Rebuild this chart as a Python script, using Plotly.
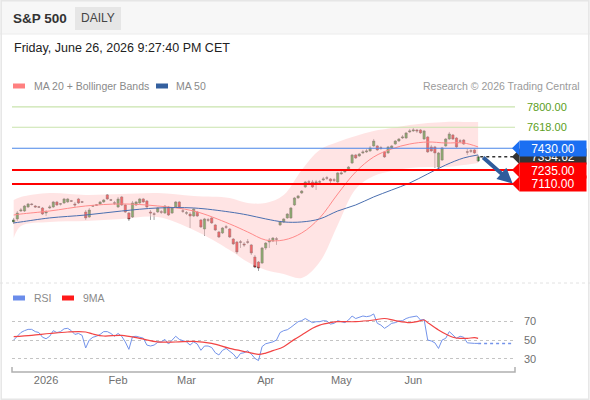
import plotly.graph_objects as go
import pandas as pd

W, H = 590, 400

holidays = ["2025-12-25", "2026-01-01", "2026-01-19", "2026-02-16",
            "2026-04-03", "2026-05-25", "2026-06-19"]
dates = pd.bdate_range("2025-12-18", "2026-06-26", freq="C", holidays=holidays)
bars = list(range(len(dates)))
tick_text = ["2026", "Feb", "Mar", "Apr", "May", "Jun"]

opens = [6770, 6797, 6868, 6868, 6904, 6931, 6913, 6906, 6895, 6850,
         6895, 6904, 6949, 6929, 6940, 6949, 6960, 6931, 6976, 6951,
         6859, 6814, 6911, 6924, 6931, 6949, 7012, 6969, 6942, 6904,
         6994, 6922, 6850, 6814, 6922, 6940, 6976, 6958, 6859, 6843,
         6859, 6862, 6850, 6904, 6850, 6904, 6949, 6870, 6848, 6841,
         6823, 6859, 6788, 6707, 6790, 6806, 6743, 6680, 6671, 6727,
         6707, 6617, 6590, 6592, 6573, 6592, 6564, 6456, 6411, 6402,
         6537, 6590, 6599, 6619, 6743, 6770, 6806, 6806, 6922, 6985,
         7029, 7083, 7130, 7128, 7119, 7126, 7146, 7166, 7155, 7148,
         7128, 7200, 7218, 7236, 7298, 7370, 7361, 7388, 7397, 7406,
         7451, 7451, 7435, 7397, 7388, 7433, 7468, 7495, 7522, 7522,
         7576, 7585, 7594, 7594, 7513, 7531, 7442, 7442, 7262, 7325,
         7451, 7513, 7549, 7522, 7497, 7504, 7399, 7408, 7415, 7316]
closes = [6788, 6850, 6877, 6913, 6931, 6926, 6904, 6902, 6841, 6859,
          6904, 6949, 6922, 6933, 6976, 6976, 6956, 6922, 6940, 6947,
          6806, 6877, 6915, 6920, 6949, 6967, 6976, 6965, 6938, 6976,
          6922, 6859, 6797, 6940, 6949, 6976, 6949, 6904, 6850, 6839,
          6895, 6857, 6913, 6832, 6895, 6949, 6904, 6866, 6852, 6823,
          6886, 6823, 6725, 6797, 6786, 6761, 6698, 6635, 6716, 6723,
          6635, 6573, 6501, 6588, 6564, 6588, 6492, 6366, 6357, 6537,
          6581, 6608, 6626, 6615, 6770, 6797, 6841, 6895, 6985, 7003,
          7047, 7128, 7126, 7083, 7128, 7130, 7155, 7162, 7137, 7144,
          7209, 7209, 7227, 7262, 7370, 7343, 7379, 7397, 7406, 7433,
          7495, 7415, 7431, 7352, 7442, 7451, 7495, 7513, 7531, 7567,
          7585, 7594, 7585, 7567, 7585, 7397, 7406, 7388, 7388, 7433,
          7513, 7558, 7513, 7442, 7493, 7468, 7395, 7404, 7388, 7354.62]
highs = [6806, 6868, 6895, 6922, 6940, 6940, 6922, 6913, 6904, 6877,
         6922, 6958, 6958, 6940, 6985, 6985, 6967, 6949, 6985, 6958,
         6877, 6895, 6922, 6931, 6958, 6976, 7020, 6976, 6958, 6994,
         7003, 6931, 6859, 6958, 6958, 6985, 6985, 6967, 6877, 6859,
         6904, 6877, 6922, 6913, 6904, 6958, 6958, 6886, 6868, 6859,
         6895, 6868, 6797, 6806, 6806, 6814, 6752, 6689, 6725, 6743,
         6716, 6626, 6599, 6608, 6590, 6617, 6573, 6474, 6420, 6546,
         6590, 6626, 6635, 6635, 6779, 6806, 6850, 6904, 6994, 7012,
         7056, 7137, 7146, 7146, 7146, 7146, 7173, 7182, 7164, 7164,
         7218, 7227, 7244, 7271, 7379, 7379, 7388, 7415, 7424, 7451,
         7513, 7460, 7451, 7406, 7451, 7460, 7504, 7522, 7549, 7576,
         7603, 7612, 7603, 7603, 7594, 7540, 7460, 7451, 7397, 7442,
         7522, 7576, 7558, 7531, 7513, 7513, 7424, 7424, 7424, 7370]
lows = [6752, 6779, 6859, 6859, 6895, 6917, 6895, 6895, 6832, 6823,
        6886, 6895, 6913, 6917, 6931, 6940, 6949, 6904, 6931, 6940,
        6788, 6806, 6904, 6913, 6922, 6940, 6967, 6958, 6922, 6895,
        6913, 6850, 6779, 6806, 6913, 6931, 6940, 6895, 6788, 6788,
        6850, 6841, 6841, 6823, 6841, 6895, 6895, 6850, 6832, 6716,
        6814, 6814, 6716, 6644, 6770, 6752, 6689, 6626, 6662, 6707,
        6626, 6564, 6483, 6537, 6546, 6573, 6474, 6357, 6331, 6393,
        6519, 6537, 6590, 6564, 6734, 6761, 6797, 6797, 6913, 6976,
        7020, 7074, 7110, 7074, 7056, 7110, 7137, 7146, 7119, 7128,
        7110, 7191, 7209, 7227, 7289, 7334, 7352, 7379, 7388, 7397,
        7442, 7406, 7415, 7343, 7379, 7424, 7460, 7486, 7513, 7513,
        7567, 7576, 7567, 7558, 7504, 7388, 7397, 7253, 7244, 7316,
        7442, 7504, 7504, 7433, 7477, 7460, 7370, 7388, 7379, 7307]

# moving averages / bands read at a few bars
ma_idx = [0, 2, 10, 20, 30, 40, 50, 60, 65, 70, 75, 80, 85, 90, 95, 100,
          105, 110, 115, 120, 125, 129]
ma20 = [6832, 6841, 6868, 6913, 6931, 6913, 6868, 6752, 6680, 6608, 6608,
        6671, 6806, 7020, 7218, 7352, 7424, 7468, 7486, 7477, 7477, 7442]
bb_upper = [6967, 6994, 7029, 7012, 7020, 7029, 7003, 6985, 6940, 6940, 7012,
            7236, 7415, 7486, 7540, 7585, 7612, 7639, 7657, 7666, 7666, 7666]
bb_lower = [6626, 6734, 6770, 6779, 6797, 6814, 6698, 6519, 6411, 6340, 6304,
            6268, 6411, 6743, 7065, 7182, 7227, 7253, 7262, 7262, 7280, 7298]
ma50 = [6761, 6770, 6806, 6832, 6868, 6895, 6895, 6859, 6832, 6797, 6770,
        6770, 6797, 6868, 6922, 6994, 7056, 7119, 7200, 7280, 7343, 7370]

rsi = [50, 54, 58, 60, 61.4, 61.4, 59, 58, 53, 51.4,
       54, 60, 58, 59, 62, 62.5, 60, 56, 57, 55,
       41.5, 50, 53, 54, 56, 59, 59, 57, 54, 57,
       54, 48, 40, 53.6, 54, 53, 52, 44.6, 43.6, 44.6,
       47.5, 48, 50.7, 45.7, 50, 54, 50.7, 49, 48, 44.6,
       48, 45.7, 39, 43.6, 43.6, 42, 36.4, 34, 39, 41,
       37.5, 35, 30.4, 35.7, 36.4, 38.6, 35, 30.4, 28, 43,
       46, 47, 48, 50, 58, 60, 61, 63.6, 67, 69.6,
       70.7, 73, 70.7, 68.6, 69.6, 69.6, 70.7, 70.3, 67, 67.9,
       70.7, 69.3, 68.6, 71.4, 75.7, 73, 74.3, 75.7, 75, 75.7,
       77.9, 67.9, 66, 62.5, 65, 67.9, 68.6, 70.3, 70.7, 73,
       74.3, 75, 75.7, 71.4, 72, 50, 49, 47, 41, 50,
       51.8, 59, 55.4, 51.8, 54, 53, 47, 46.4, 46.4, 46.4]
ma9_idx = [0, 5, 10, 15, 20, 22, 25, 30, 35, 40, 45, 50, 55, 60, 65, 68, 70,
           72, 75, 78, 80, 83, 85, 88, 90, 95, 100, 103, 106, 110, 112, 114,
           115, 118, 120, 122, 124, 126, 128, 129]
rsi_ma9 = [53.6, 55, 57, 58.6, 58.6, 56.4, 54.3, 55, 51.8, 48, 47.9, 48.6,
           46.4, 41, 37, 34.6, 36, 38.6, 42.9, 50.7, 55.4, 62.5, 66, 68.6,
           69.6, 69.6, 71.4, 73, 70.7, 68.6, 69.6, 71.4, 68.6, 60.7, 56.4,
           53, 51.8, 51.8, 52.5, 51.8]

resistances = [7800, 7618]
pivot = 7430
supports = [7235, 7110]
target = 7110

tick_idx = [i for i in bars[1:] if dates[i].month != dates[i - 1].month]

FONT = "Liberation Sans, Arial, sans-serif"
PRICE_RANGE = [6232, 7898]
PRICE_PX = (96, 282)
RSI_RANGE = [15.8, 89.6]
RSI_PX = (303, 372)
X_PX = (12, 515)
X_RANGE = [-0.47, 139.25]
per_px = (PRICE_RANGE[1] - PRICE_RANGE[0]) / (PRICE_PX[1] - PRICE_PX[0])


def fx(p):
    return p / W


def fy(p):
    return 1 - p / H


fig = go.Figure()

fig.add_trace(go.Scatter(x=ma_idx, y=bb_lower, mode="lines", line=dict(width=0, shape="spline"),
                         hoverinfo="skip"))
fig.add_trace(go.Scatter(x=ma_idx, y=bb_upper, mode="lines", line=dict(width=0, shape="spline"),
                         fill="tonexty", fillcolor="rgba(255,196,196,0.45)", hoverinfo="skip"))
fig.add_trace(go.Scatter(x=ma_idx, y=ma20, mode="lines",
                         line=dict(color="#ff8a8a", width=1, shape="spline")))
fig.add_trace(go.Scatter(x=ma_idx, y=ma50, mode="lines",
                         line=dict(color="#4a6fb0", width=1, shape="spline")))
fig.add_trace(go.Candlestick(x=bars, open=opens, high=highs, low=lows, close=closes,
                             whiskerwidth=0,
                             increasing=dict(fillcolor="#2a9a2a", line=dict(color="#3f3f3f", width=0.5)),
                             decreasing=dict(fillcolor="#f01a1d", line=dict(color="#3f3f3f", width=0.5))))

fig.add_trace(go.Scatter(x=bars, y=rsi, mode="lines", xaxis="x2", yaxis="y2",
                         line=dict(color="#7393ea", width=1)))
fig.add_trace(go.Scatter(x=ma9_idx, y=rsi_ma9, mode="lines", xaxis="x2", yaxis="y2",
                         line=dict(color="#f24444", width=1.2, shape="spline")))

shapes = []
# header strip, frame, separators
shapes.append(dict(type="rect", xref="paper", yref="paper", x0=0, x1=1, y0=fy(34), y1=1,
                   fillcolor="#f7f7f7", line=dict(width=0), layer="below"))
shapes.append(dict(type="line", xref="paper", yref="paper", x0=0, x1=1, y0=fy(34), y1=fy(34),
                   line=dict(color="#ececec", width=1)))
shapes.append(dict(type="rect", xref="paper", yref="paper", x0=0.002, x1=0.998, y0=0.002, y1=0.998,
                   line=dict(color="#e6e6e6", width=1.5)))
shapes.append(dict(type="rect", xref="paper", yref="paper", x0=fx(75), x1=fx(121), y0=fy(30), y1=fy(7),
                   fillcolor="#e6e6e6", line=dict(width=0)))
shapes.append(dict(type="line", xref="paper", yref="paper", x0=0, x1=1, y0=fy(283), y1=fy(283),
                   line=dict(color="#e2e2e2", width=1, dash="dot")))
# legend swatches
for x0, col, yp in [(13, "#ff8080", 86), (156, "#34609f", 86), (13, "#6a8cea", 298), (62, "#ff1a1a", 298)]:
    shapes.append(dict(type="rect", xref="paper", yref="paper", x0=fx(x0), x1=fx(x0 + 12),
                       y0=fy(yp + 2.5), y1=fy(yp - 2.5), fillcolor=col, line=dict(width=0)))
# x axis bracket
shapes.append(dict(type="path", xref="paper", yref="paper",
                   path=f"M {fx(X_PX[0])} {fy(367)} L {fx(X_PX[0])} {fy(372)} L {fx(X_PX[1])} {fy(372)} L {fx(X_PX[1])} {fy(367)}",
                   line=dict(color="#b0b0b0", width=1.5)))

for lv in resistances:
    shapes.append(dict(type="line", xref="x domain", yref="y", x0=0, x1=1, y0=lv, y1=lv,
                       line=dict(color="#c9e3ad", width=1.2)))
shapes.append(dict(type="line", xref="x domain", yref="y", x0=0, x1=1, y0=pivot, y1=pivot,
                   line=dict(color="#4a86e8", width=1.2)))
for lv in supports:
    shapes.append(dict(type="line", xref="x domain", yref="y", x0=0, x1=1.006, y0=lv, y1=lv,
                       line=dict(color="#ff0000", width=2)))
shapes.append(dict(type="line", xref="x", yref="y", x0=bars[-1] + 0.6, x1=X_RANGE[1], y0=closes[-1], y1=closes[-1],
                   line=dict(color="#333333", width=1.5, dash="dot")))
shapes.append(dict(type="line", xref="x2", yref="y2", x0=bars[-1], x1=X_RANGE[1] - 0.6, y0=rsi[-1], y1=rsi[-1],
                   line=dict(color="#7393ea", width=1.5, dash="dot")))

annotations = []


def tag(price, text, color):
    half = 7.5 * per_px
    shapes.append(dict(type="path", xref="paper", yref="y",
                       path=f"M {fx(512)} {price} L {fx(519.5)} {price + half} L {fx(519.5)} {price - half} Z",
                       fillcolor=color, line=dict(width=0)))
    annotations.append(dict(x=fx(552.5), y=price, xref="paper", yref="y", text=text, showarrow=False,
                            bgcolor=color, width=66, height=15, borderpad=0, xanchor="center",
                            font=dict(color="white", size=12, family=FONT)))


tag(closes[-1], f"{closes[-1]:.2f}", "#333333")
tag(pivot, f"{pivot:.2f}", "#1b6ff2")
for lv in supports:
    tag(lv, f"{lv:.2f}", "#ff0000")
for lv in resistances:
    annotations.append(dict(x=fx(525), y=lv, xref="paper", yref="y", text=f"{lv:.2f}", showarrow=False,
                            xanchor="left", font=dict(color="#5c9e1c", size=11, family=FONT)))

# target arrow
annotations.append(dict(x=138.6, y=target + 5, ax=130.0, ay=closes[-1] + 5, xref="x", yref="y",
                        axref="x", ayref="y", text="", showarrow=True, arrowhead=2, arrowsize=0.75,
                        arrowwidth=4, arrowcolor="#2f5c9c"))


def text(x, y, s, size, color, anchor="left", bold=False):
    annotations.append(dict(x=fx(x), y=fy(y), xref="paper", yref="paper", showarrow=False,
                            text=f"<b>{s}</b>" if bold else s, xanchor=anchor, yanchor="middle",
                            font=dict(size=size, color=color, family=FONT)))


text(11, 18, "S&P 500", 13.5, "#333333", bold=True)
text(98, 18, "DAILY", 12, "#444444", anchor="center")
text(12, 48, "Friday, June 26, 2026 9:27:40 PM CET", 12.5, "#222222")
text(32, 86, "MA 20 + Bollinger Bands", 10.5, "#8a8a8a")
text(174, 86, "MA 50", 10.5, "#8a8a8a")
text(582, 86, "Research © 2026 Trading Central", 10.5, "#9a9a9a", anchor="right")
text(32, 298, "RSI", 10.5, "#8a8a8a")
text(81, 298, "9MA", 10.5, "#8a8a8a")

fig.update_layout(
    width=W, height=H, margin=dict(l=0, r=0, t=0, b=0),
    paper_bgcolor="white", plot_bgcolor="rgba(0,0,0,0)",
    showlegend=False, font=dict(family=FONT), boxgap=0.1, hovermode=False,
    shapes=shapes, annotations=annotations,
    xaxis=dict(domain=[fx(X_PX[0]), fx(X_PX[1])], range=X_RANGE, anchor="y",
               showgrid=False, zeroline=False, showticklabels=False, rangeslider=dict(visible=False)),
    yaxis=dict(domain=[fy(PRICE_PX[1]), fy(PRICE_PX[0])], range=PRICE_RANGE, anchor="x",
               showgrid=False, zeroline=False, showticklabels=False),
    xaxis2=dict(domain=[fx(X_PX[0]), fx(X_PX[1])], range=X_RANGE, anchor="y2", matches="x",
                showgrid=False, zeroline=False, tickvals=tick_idx, ticktext=tick_text,
                tickfont=dict(size=11, color="#707070"), ticks=""),
    yaxis2=dict(domain=[fy(RSI_PX[1]), fy(RSI_PX[0])], range=RSI_RANGE, anchor="x2", side="right",
                tickvals=[30, 50, 70], showgrid=True, gridcolor="#c4c4c4", griddash="dot",
                zeroline=False, ticks="", ticklabelstandoff=8,
                tickfont=dict(size=11, color="#707070")),
)

fig.write_html("out.html", config={"displayModeBar": False},
               post_script="document.body.style.margin='0';")
